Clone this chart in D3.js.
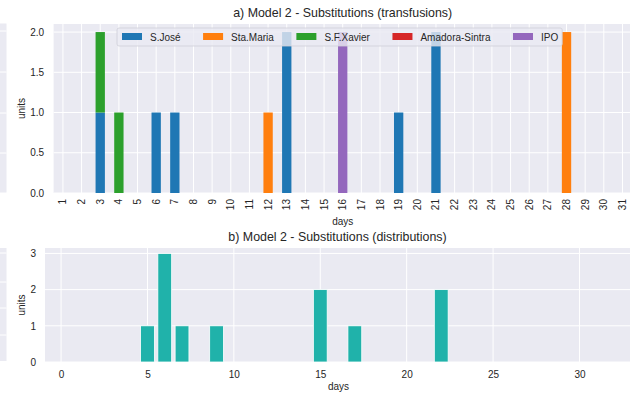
<!DOCTYPE html>
<html>
<head>
<meta charset="utf-8">
<script src="https://cdn.jsdelivr.net/npm/d3@7"></script>
<style>
  body { margin: 0; background: #fff; }
  svg { font-family: "Liberation Sans", Arial, sans-serif; }
  .tick text { fill: #262626; font-size: 10px; }
</style>
</head>
<body>
<div id="chart"></div>
<script>
// day categories for panel a
var days = [1, 2, 3, 4, 5, 6, 7, 8, 9, 10, 11, 12, 13, 14, 15, 16, 17, 18, 19, 20, 21, 22, 23, 24, 25, 26, 27, 28, 29, 30, 31];
var hospitals = ["S.José", "Sta.Maria", "S.F.Xavier", "Amadora-Sintra", "IPO"];
var colors = ["#1f77b4", "#ff7f0e", "#2ca02c", "#d62728", "#9467bd"];
// units per day, one array per hospital
var sJose     = [0, 0, 1, 0, 0, 1, 1, 0, 0, 0, 0, 0, 2, 0, 0, 0, 0, 0, 1, 0, 2, 0, 0, 0, 0, 0, 0, 0, 0, 0, 0];
var staMaria  = [0, 0, 0, 0, 0, 0, 0, 0, 0, 0, 0, 1, 0, 0, 0, 0, 0, 0, 0, 0, 0, 0, 0, 0, 0, 0, 0, 2, 0, 0, 0];
var sfXavier  = [0, 0, 1, 1, 0, 0, 0, 0, 0, 0, 0, 0, 0, 0, 0, 0, 0, 0, 0, 0, 0, 0, 0, 0, 0, 0, 0, 0, 0, 0, 0];
var amadora   = [0, 0, 0, 0, 0, 0, 0, 0, 0, 0, 0, 0, 0, 0, 0, 0, 0, 0, 0, 0, 0, 0, 0, 0, 0, 0, 0, 0, 0, 0, 0];
var ipo       = [0, 0, 0, 0, 0, 0, 0, 0, 0, 0, 0, 0, 0, 0, 0, 2, 0, 0, 0, 0, 0, 0, 0, 0, 0, 0, 0, 0, 0, 0, 0];
var yTicksA = [0, 0.5, 1.0, 1.5, 2.0];

// panel b: distributions
var distDays  = [5, 6, 7, 9, 15, 17, 22];
var distUnits = [1, 3, 1, 1, 2, 1, 2];
var yTicksB = [0, 1, 2, 3];
var xTicksB = [0, 5, 10, 15, 20, 25, 30];

var W = 630, H = 394;
var bg = "#eaeaf2", txt = "#262626";

var svg = d3.select("#chart").append("svg")
    .attr("width", W).attr("height", H);

// sliver of neighbouring panel on the left edge
function ghost(y0, y1, lines) {
    svg.append("rect").attr("x", 0).attr("y", y0).attr("width", 6.5).attr("height", y1 - y0).attr("fill", bg);
    lines.forEach(function (ly) {
        svg.append("line").attr("x1", 0).attr("x2", 6.5).attr("y1", ly).attr("y2", ly)
            .attr("stroke", "#fff").attr("stroke-width", 1);
    });
}
ghost(23.5, 192.5, [31, 72, 113, 153]);
ghost(248, 361, [253, 282, 308, 335]);

// ---------- panel a ----------
var a = { left: 53.6, right: 631.8, top: 24, bottom: 193 };
var xA = d3.scaleBand().domain(days).range([a.left, a.right]);
var yA = d3.scaleLinear().domain([0, 2.1]).range([a.bottom, a.top]);

var gA = svg.append("g");
gA.append("rect").attr("x", a.left).attr("y", a.top)
    .attr("width", a.right - a.left).attr("height", a.bottom - a.top).attr("fill", bg);

// grid
gA.selectAll(".vg").data(days).enter().append("line")
    .attr("x1", function (d) { return xA(d) + xA.bandwidth() / 2; })
    .attr("x2", function (d) { return xA(d) + xA.bandwidth() / 2; })
    .attr("y1", a.top).attr("y2", a.bottom)
    .attr("stroke", "#fff").attr("stroke-width", 1);
gA.selectAll(".hg").data(yTicksA).enter().append("line")
    .attr("x1", a.left).attr("x2", a.right)
    .attr("y1", function (d) { return yA(d); }).attr("y2", function (d) { return yA(d); })
    .attr("stroke", "#fff").attr("stroke-width", 1);

// stacked bars
var rows = days.map(function (d, i) {
    return { day: d, "S.José": sJose[i], "Sta.Maria": staMaria[i], "S.F.Xavier": sfXavier[i],
             "Amadora-Sintra": amadora[i], "IPO": ipo[i] };
});
var stacked = d3.stack().keys(hospitals)(rows);
var barW = xA.bandwidth() * 0.5;
stacked.forEach(function (layer, k) {
    gA.selectAll(".bar" + k).data(layer.filter(function (s) { return s[1] > s[0]; }))
        .enter().append("rect")
        .attr("x", function (s) { return xA(s.data.day) + (xA.bandwidth() - barW) / 2; })
        .attr("y", function (s) { return yA(s[1]); })
        .attr("width", barW)
        .attr("height", function (s) { return yA(s[0]) - yA(s[1]); })
        .attr("fill", colors[k]);
});

// axes
var axA = gA.append("g").attr("transform", "translate(0," + a.bottom + ")")
    .call(d3.axisBottom(xA).tickSize(0).tickPadding(0));
axA.select(".domain").remove();
axA.selectAll("text")
    .attr("transform", "translate(0,6) rotate(-90)")
    .attr("text-anchor", "end").attr("x", 0).attr("y", 0).attr("dy", "0.35em");

var ayA = gA.append("g").attr("transform", "translate(" + a.left + ",0)")
    .call(d3.axisLeft(yA).tickValues(yTicksA).tickFormat(d3.format(".1f")).tickSize(0).tickPadding(9.5));
ayA.select(".domain").remove();

gA.append("text").attr("x", (a.left + a.right) / 2).attr("y", 17)
    .attr("text-anchor", "middle").attr("font-size", 12.4).attr("fill", txt)
    .text("a) Model 2 - Substitutions (transfusions)");
gA.append("text").attr("x", (a.left + a.right) / 2).attr("y", 225)
    .attr("text-anchor", "middle").attr("font-size", 10).attr("fill", txt).text("days");
gA.append("text").attr("transform", "translate(25," + ((a.top + a.bottom) / 2) + ") rotate(-90)")
    .attr("text-anchor", "middle").attr("font-size", 10).attr("fill", txt).text("units");

// legend
var leg = gA.append("g");
var legBox = leg.append("rect").attr("y", 28).attr("height", 18)
    .attr("fill", bg).attr("fill-opacity", 0.8)
    .attr("stroke", "#d0d0d8").attr("stroke-opacity", 0.8).attr("rx", 2);
var lx = 122;
hospitals.forEach(function (h, k) {
    leg.append("rect").attr("x", lx).attr("y", 33).attr("width", 20).attr("height", 7).attr("fill", colors[k]);
    var t = leg.append("text").attr("x", lx + 28).attr("y", 40.5)
        .attr("font-size", 10).attr("fill", txt).text(h);
    lx = lx + 28 + t.node().getComputedTextLength() + 22.5;
});
legBox.attr("x", 117).attr("width", lx - 22.5 + 4 - 117);

// ---------- panel b ----------
var b = { left: 45, top: 248, bottom: 362 };
var xB = d3.scaleLinear().domain([-0.93, 33.5]).range([b.left, b.left + 34.43 * 17.28]);
var yB = d3.scaleLinear().domain([0, 3.15]).range([b.bottom, b.top]);

var gB = svg.append("g");
gB.append("rect").attr("x", b.left).attr("y", b.top)
    .attr("width", W - b.left).attr("height", b.bottom - b.top).attr("fill", bg);
gB.selectAll(".vg").data(xTicksB).enter().append("line")
    .attr("x1", function (d) { return xB(d); }).attr("x2", function (d) { return xB(d); })
    .attr("y1", b.top).attr("y2", b.bottom)
    .attr("stroke", "#fff").attr("stroke-width", 1);
gB.selectAll(".hg").data(yTicksB).enter().append("line")
    .attr("x1", b.left).attr("x2", W)
    .attr("y1", function (d) { return yB(d); }).attr("y2", function (d) { return yB(d); })
    .attr("stroke", "#fff").attr("stroke-width", 1);

gB.selectAll(".bar").data(distDays).enter().append("rect")
    .attr("x", function (d) { return xB(d - 0.4); })
    .attr("y", function (d, i) { return yB(distUnits[i]); })
    .attr("width", function (d) { return xB(d + 0.4) - xB(d - 0.4); })
    .attr("height", function (d, i) { return yB(0) - yB(distUnits[i]); })
    .attr("fill", "#20b2aa").attr("stroke", "#fff").attr("stroke-width", 0.8);

var axB = gB.append("g").attr("transform", "translate(0," + b.bottom + ")")
    .call(d3.axisBottom(xB).tickValues(xTicksB).tickFormat(d3.format("d")).tickSize(0).tickPadding(9));
axB.select(".domain").remove();
var ayB = gB.append("g").attr("transform", "translate(" + b.left + ",0)")
    .call(d3.axisLeft(yB).tickValues(yTicksB).tickFormat(d3.format("d")).tickSize(0).tickPadding(9));
ayB.select(".domain").remove();

gB.append("text").attr("x", (b.left + W) / 2).attr("y", 241)
    .attr("text-anchor", "middle").attr("font-size", 12.4).attr("fill", txt)
    .text("b) Model 2 - Substitutions (distributions)");
gB.append("text").attr("x", (b.left + W) / 2 + 1).attr("y", 390)
    .attr("text-anchor", "middle").attr("font-size", 10).attr("fill", txt).text("days");
gB.append("text").attr("transform", "translate(25," + ((b.top + b.bottom) / 2) + ") rotate(-90)")
    .attr("text-anchor", "middle").attr("font-size", 10).attr("fill", txt).text("units");
</script>
</body>
</html>
